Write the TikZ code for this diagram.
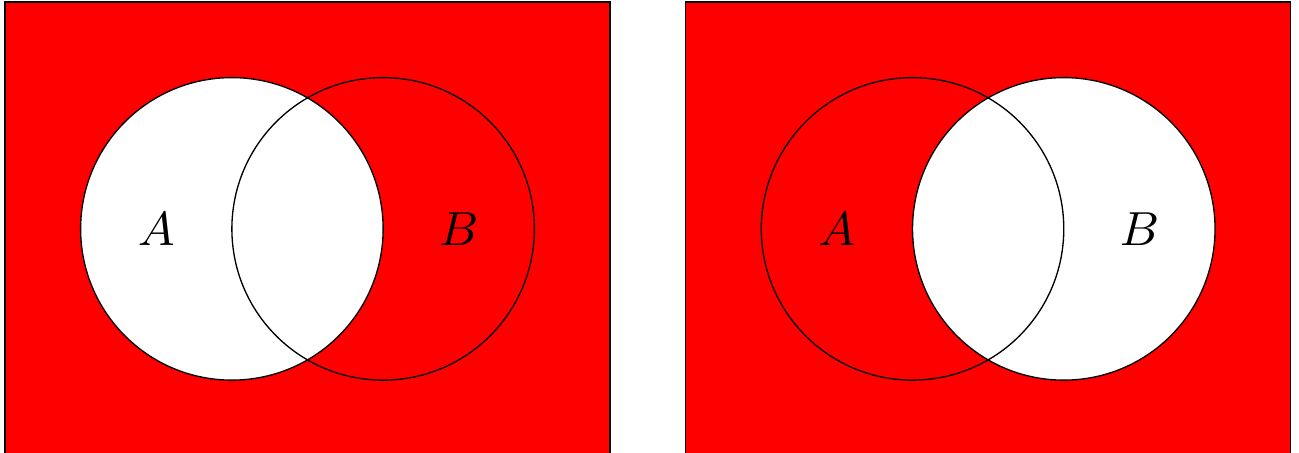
\documentclass[tikz,border=0pt]{standalone}
\usepackage{tikz}
\usetikzlibrary{positioning}
\definecolor{vred}{HTML}{FF0000}
\tikzset{
  universe/.style={draw=black, fill=vred, line width=0.25pt},
  hole/.style={fill=white},
  ring/.style={draw=black, line width=0.25pt},
  setlbl/.style={font=\fontsize{8.8}{10}\selectfont, inner sep=0pt},
}
\begin{document}
\begin{tikzpicture}
  \useasboundingbox (-1.533,-1.477) rectangle (7.055,1.513);
  % left: complement of A
  \draw[universe] (-1.5,-1.5) rectangle (2.5,1.5);
  \fill[hole] (0,0) circle (1);
  \draw[ring] (0,0) circle (1);
  \draw[ring] (1,0) circle (1);
  \node[setlbl] (la) at (-0.5,0) {$A$};
  \node[setlbl] (lb) at (1.5,0) {$B$};
  % right: complement of B
  \begin{scope}[xshift=4.5cm]
    \draw[universe] (-1.5,-1.5) rectangle (2.5,1.5);
    \fill[hole] (1,0) circle (1);
    \draw[ring] (0,0) circle (1);
    \draw[ring] (1,0) circle (1);
    \node[setlbl] (ra) at (-0.5,0) {$A$};
    \node[setlbl] (rb) at (1.5,0) {$B$};
  \end{scope}
\end{tikzpicture}
\end{document}
